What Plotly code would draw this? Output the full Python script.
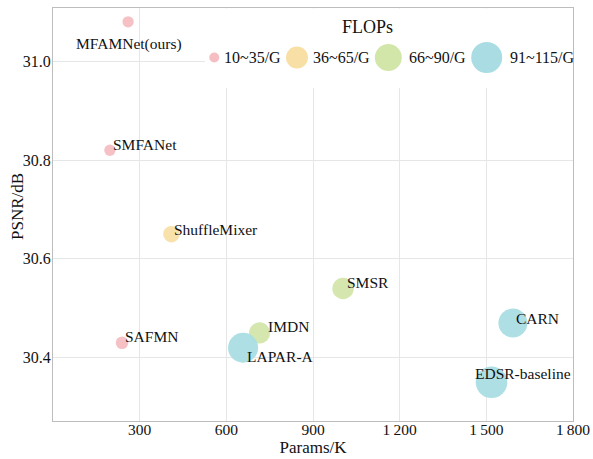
import plotly.graph_objects as go

# ---- data ----
models = ["MFAMNet(ours)", "SMFANet", "SAFMN", "ShuffleMixer", "SMSR", "IMDN",
          "LAPAR-A", "CARN", "EDSR-baseline"]
params_k = [260, 197, 239, 410, 1004, 715, 658, 1592, 1518]
psnr_db = [31.08, 30.82, 30.43, 30.65, 30.54, 30.45, 30.42, 30.47, 30.35]
flops_g = [30, 30, 35, 50, 69, 68, 102, 98, 108]
flops_groups = ["10~35/G", "36~65/G", "66~90/G", "91~115/G"]
x_ticks = [300, 600, 900, 1200, 1500, 1800]
x_tick_text = ["300", "600", "900", "1\u2009200", "1\u2009500", "1\u2009800"]
y_ticks = [30.4, 30.6, 30.8, 31.0]

# ---- style ----
group_colors = ["#F5BEC2", "#F8DFA6", "#D3E6AA", "#A9DDE3"]
FONT = "Liberation Serif, Times New Roman, serif"
TXT = "#111111"


def group_of(f):
    if f <= 35:
        return 0
    if f <= 65:
        return 1
    if f <= 90:
        return 2
    return 3


def diam(f):
    return 3.5 + 0.26 * f


colors = [group_colors[group_of(f)] for f in flops_g]
sizes = [diam(f) for f in flops_g]

# label placement (anchor, xshift, yshift in px)
label_pos = {
    "MFAMNet(ours)": ("center", 1, -22),
    "SMFANet": ("left", 1, 6),
    "SAFMN": ("left", 1, 6),
    "ShuffleMixer": ("left", 1, 5),
    "SMSR": ("left", 2, 6),
    "IMDN": ("left", 6, 6),
    "LAPAR-A": ("left", 2, -9),
    "CARN": ("left", 1, 5),
    "EDSR-baseline": ("center", 31, 9),
}

fig = go.Figure()
fig.add_trace(go.Scatter(
    x=params_k, y=psnr_db, mode="markers",
    marker=dict(size=sizes, color=colors, opacity=0.95, line=dict(width=0)),
    hoverinfo="text", text=models, showlegend=False,
))

annotations = []
for m, xv, yv in zip(models, params_k, psnr_db):
    anc, xs, ys = label_pos[m]
    annotations.append(dict(
        x=xv, y=yv, xref="x", yref="y", text=m, showarrow=False,
        xanchor=anc, yanchor="middle", xshift=xs, yshift=ys,
        font=dict(family=FONT, size=15.5, color=TXT),
    ))

# ---- custom legend ----
L, R, T, B = 53.0, 573.0, 8.0, 421.0
W, H = R - L, B - T


def fx(px):
    return (px - L) / W


def fy(py):
    return (B - py) / H


shapes = [dict(type="rect", xref="paper", yref="paper",
               x0=fx(205), x1=fx(572.5), y0=fy(88), y1=fy(8.5),
               fillcolor="white", line=dict(width=0), layer="above")]

leg_y = 57.5
leg_circle_x = [214.3, 297, 388.3, 486.7]
leg_circle_d = [10, 22, 27, 31]
leg_text_x = [221.5, 311, 406.5, 508]
for i, g in enumerate(flops_groups):
    r = leg_circle_d[i] / 2
    cx, cy = fx(leg_circle_x[i]), fy(leg_y)
    shapes.append(dict(type="circle", xref="paper", yref="paper",
                       x0=cx - r / W, x1=cx + r / W, y0=cy - r / H, y1=cy + r / H,
                       fillcolor=group_colors[i], line=dict(width=0),
                       layer="above"))
    annotations.append(dict(x=fx(leg_text_x[i]), y=fy(leg_y), xref="paper",
                            yref="paper", text=g, showarrow=False,
                            xanchor="left", yanchor="middle",
                            font=dict(family=FONT, size=16, color=TXT)))
annotations.append(dict(x=fx(367), y=fy(27), xref="paper", yref="paper",
                        text="FLOPs", showarrow=False, xanchor="center",
                        yanchor="middle",
                        font=dict(family=FONT, size=18, color=TXT)))
# y-axis title
annotations.append(dict(x=fx(17), y=fy(207), xref="paper", yref="paper",
                        text="PSNR/dB", showarrow=False, textangle=-90,
                        xanchor="center", yanchor="middle",
                        font=dict(family=FONT, size=17, color=TXT)))

fig.update_layout(
    width=593, height=459,
    margin=dict(l=53, r=20, t=8, b=38, autoexpand=False),
    paper_bgcolor="white", plot_bgcolor="white",
    font=dict(family=FONT, size=16, color=TXT),
    shapes=shapes, annotations=annotations,
    xaxis=dict(range=[0, 1800], tickvals=x_ticks, ticktext=x_tick_text,
               showgrid=True, gridcolor="#E6E6E6", gridwidth=1,
               showline=True, linecolor="#BDBDBD", linewidth=1, mirror=True,
               zeroline=False, ticks="", tickfont=dict(size=15.5),
               ticklabelstandoff=-6, automargin=False,
               title=dict(text="Params/K", font=dict(size=17), standoff=0)),
    yaxis=dict(range=[30.2717, 31.108], tickvals=y_ticks,
               tickformat=".1f", automargin=False,
               showgrid=True, gridcolor="#E6E6E6", gridwidth=1,
               showline=True, linecolor="#BDBDBD", linewidth=1, mirror=True,
               zeroline=False, ticks="", tickfont=dict(size=16),
               ticklabelstandoff=-2),
)

fig.write_html("out.html", config={"displayModeBar": False},
               post_script="document.body.style.margin='0';"
                           "document.body.style.overflow='hidden';")
